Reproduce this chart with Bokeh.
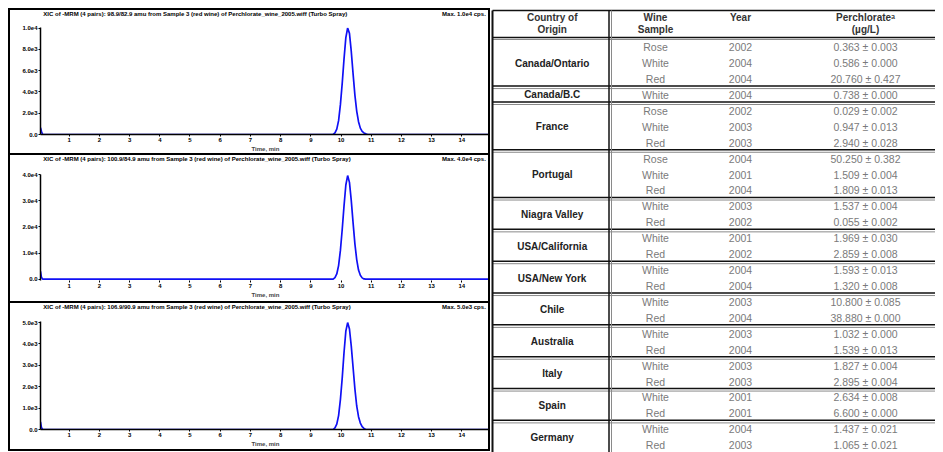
from bokeh.plotting import figure
from bokeh.layouts import row, column
from bokeh.models import Range1d, FixedTicker
from bokeh.embed import file_html
from bokeh.resources import INLINE
from bokeh.core.properties import value

# ---------------- chromatogram data ----------------
x_ticks = [1, 2, 3, 4, 5, 6, 7, 8, 9, 10, 11, 12, 13, 14]

top_time = [0.05, 0.08, 0.12, 9.74, 9.80, 9.86, 9.92, 9.98, 10.04, 10.10, 10.16, 10.22,
            10.28, 10.34, 10.40, 10.46, 10.52, 10.58, 10.64, 10.70, 10.76, 10.82, 10.88, 14.95]
top_int = [650, 300, 0, 0, 150, 500, 1300, 2800, 4800, 7100, 9100, 10000,
           9500, 7800, 5700, 3700, 2200, 1200, 600, 300, 150, 60, 0, 0]
top_ticks = [0, 2000, 4000, 6000, 8000, 10000]
top_labels = ["0.0", "2.0e3", "4.0e3", "6.0e3", "8.0e3", "1.0e4"]
top_title = "XIC of -MRM (4 pairs): 98.9/82.9 amu from Sample 3 (red wine) of Perchlorate_wine_2005.wiff (Turbo Spray)"
top_max = "Max. 1.0e4 cps."

mid_time = [0.05, 0.08, 0.12, 9.74, 9.80, 9.86, 9.92, 9.98, 10.04, 10.10, 10.16, 10.22,
            10.28, 10.34, 10.40, 10.46, 10.52, 10.58, 10.64, 10.70, 10.76, 10.82, 10.88, 14.95]
mid_int = [3000, 800, 0, 0, 600, 2000, 5200, 11000, 19000, 28000, 36000, 39600,
           37000, 30000, 21500, 13500, 7500, 3500, 1500, 500, 100, 0, 0, 0]
mid_ticks = [0, 10000, 20000, 30000, 40000]
mid_labels = ["0.0", "1.0e4", "2.0e4", "3.0e4", "4.0e4"]
mid_title = "XIC of -MRM (4 pairs): 100.9/84.9 amu from Sample 3 (red wine) of Perchlorate_wine_2005.wiff (Turbo Spray)"
mid_max = "Max. 4.0e4 cps."

bot_time = [0.05, 0.08, 0.12, 9.74, 9.80, 9.86, 9.92, 9.98, 10.04, 10.10, 10.16, 10.22,
            10.28, 10.34, 10.40, 10.46, 10.52, 10.58, 10.64, 10.70, 10.76, 10.82, 10.88, 14.95]
bot_int = [360, 100, 0, 0, 80, 250, 650, 1400, 2400, 3600, 4600, 5000,
           4700, 3900, 2900, 1900, 1100, 600, 300, 130, 50, 0, 0, 0]
bot_ticks = [0, 1000, 2000, 3000, 4000, 5000]
bot_labels = ["0.0", "1.0e3", "2.0e3", "3.0e3", "4.0e3", "5.0e3"]
bot_title = "XIC of -MRM (4 pairs): 106.9/90.9 amu from Sample 3 (red wine) of Perchlorate_wine_2005.wiff (Turbo Spray)"
bot_max = "Max. 5.0e3 cps."

# ---------------- table data ----------------
countries = ["Canada/Ontario", "Canada/B.C", "France", "Portugal", "Niagra Valley",
             "USA/California", "USA/New York", "Chile", "Australia", "Italy", "Spain", "Germany"]
group_sizes = [3, 1, 3, 3, 2, 2, 2, 2, 2, 2, 2, 2]
samples = ["Rose", "White", "Red", "White", "Rose", "White", "Red", "Rose", "White", "Red",
           "White", "Red", "White", "Red", "White", "Red", "White", "Red", "White", "Red",
           "White", "Red", "White", "Red", "White", "Red"]
years = [2002, 2004, 2004, 2004, 2002, 2003, 2003, 2004, 2001, 2004, 2003, 2002, 2001,
         2002, 2004, 2004, 2003, 2004, 2003, 2004, 2003, 2003, 2001, 2001, 2004, 2003]
perchlorate = [0.363, 0.586, 20.760, 0.738, 0.029, 0.947, 2.940, 50.250, 1.509, 1.809,
               1.537, 0.055, 1.969, 2.859, 1.593, 1.320, 10.800, 38.880, 1.032, 1.539,
               1.827, 2.895, 2.634, 6.600, 1.437, 1.065]
errors = [0.003, 0.000, 0.427, 0.000, 0.002, 0.013, 0.028, 0.382, 0.004, 0.013,
          0.004, 0.002, 0.030, 0.008, 0.013, 0.008, 0.085, 0.000, 0.000, 0.013,
          0.004, 0.004, 0.008, 0.000, 0.021, 0.021]
header_line1 = ["Country of", "Wine", "Year", "Perchlorate\u1d43"]
header_line2 = ["Origin", "Sample", "", "(\u00b5g/L)"]

FONT_NAME = "Liberation Sans"
FONT = value(FONT_NAME)
BLUE = "#1010f5"
B = "2px solid black"
W_OUT = 482          # outer width of the left panels (border-box)
W_IN = W_OUT - 4
HDR = 12             # inner height of the title strip


def header(title, maxtxt, top_border):
    h = HDR + (2 if top_border else 0)
    p = figure(width=W_OUT, height=h, x_range=Range1d(0, W_IN), y_range=Range1d(0, HDR),
               output_backend="svg", toolbar_location=None, x_axis_location=None,
               y_axis_location=None, min_border=0, outline_line_color=None)
    p.grid.visible = False
    p.text(x=[3], y=[HDR - 0.5], text=[title], text_align="left", text_baseline="top",
           text_font=FONT, text_font_size="6px", text_font_style="bold", text_color="black")
    p.text(x=[W_IN - 5], y=[HDR - 0.5], text=[maxtxt], text_align="right",
           text_baseline="top", text_font=FONT, text_font_size="6px",
           text_font_style="bold", text_color="black")
    st = {"border-left": B, "border-right": B}
    if top_border:
        st["border-top"] = B
    p.styles = st
    return p


def chrom(t, y, ticks, labels, ymin, ymax, h, mb_top, mb_bottom, hide_xline=False):
    p = figure(width=W_OUT, height=h, x_range=Range1d(0.05, 14.95),
               y_range=Range1d(ymin, ymax), output_backend="svg", toolbar_location=None,
               min_border_left=30, min_border_right=2, min_border_top=mb_top,
               min_border_bottom=mb_bottom, outline_line_color=None)
    p.grid.visible = False
    p.line(t, y, line_color=BLUE, line_width=1.7)
    xa = p.xaxis[0]
    xa.ticker = FixedTicker(ticks=x_ticks)
    xa.axis_label = "Time, min"
    ya = p.yaxis[0]
    ya.ticker = FixedTicker(ticks=ticks)
    ya.major_label_overrides = {tk: lb for tk, lb in zip(ticks, labels)}
    for ax in (xa, ya):
        ax.axis_line_color = "black"
        ax.axis_line_width = 1.5
        ax.major_tick_line_color = "black"
        ax.major_tick_in = 0
        ax.major_tick_out = 2
        ax.minor_tick_line_color = None
        ax.major_label_standoff = 1
        ax.major_label_text_font = FONT_NAME
        ax.major_label_text_font_size = "6px"
        ax.major_label_text_font_style = "bold"
        ax.major_label_text_color = "black"
        ax.axis_label_text_font = FONT_NAME
        ax.axis_label_text_font_size = "6px"
        ax.axis_label_text_font_style = "bold"
        ax.axis_label_standoff = 1
    if hide_xline:
        xa.axis_line_color = None
    p.styles = {"border-left": B, "border-right": B, "border-bottom": B}
    return p


h1 = header(top_title, top_max, True)
p1 = chrom(top_time, top_int, top_ticks, top_labels, 0, 10050, 133, 5, 21)
h2 = header(mid_title, mid_max, False)
p2 = chrom(mid_time, mid_int, mid_ticks, mid_labels, -500, 40000, 136, 7, 23,
           hide_xline=True)
h3 = header(bot_title, bot_max, False)
p3 = chrom(bot_time, bot_int, bot_ticks, bot_labels, 0, 5050, 136, 6, 22)

# ---------------- table ----------------
TW, TH = 445, 444
row_top, row_bottom = -2.431, 25.459
t = figure(width=TW, height=TH, x_range=Range1d(0, TW), y_range=Range1d(row_bottom, row_top),
           output_backend="svg", toolbar_location=None, x_axis_location=None,
           y_axis_location=None, min_border=0, outline_line_color=None)
t.grid.visible = False

col_country, col_sample, col_year, col_value = 61.7, 165, 250, 375
header_x = [col_country, col_sample, col_year, col_value]

t.text(x=header_x, y=[-1.884] * 4, text=header_line1, text_align="center",
       text_baseline="middle", text_font=FONT, text_font_size="10px",
       text_font_style="bold", text_color="#333333")
t.text(x=header_x, y=[-1.112] * 4, text=header_line2, text_align="center",
       text_baseline="middle", text_font=FONT, text_font_size="10px",
       text_font_style="bold", text_color="#333333")

rows = list(range(len(samples)))
t.text(x=[col_sample] * len(rows), y=rows, text=samples, text_align="center",
       text_baseline="middle", text_font=FONT, text_font_size="10.5px", text_color="#7a7a7a")
t.text(x=[col_year] * len(rows), y=rows, text=[str(v) for v in years], text_align="center",
       text_baseline="middle", text_font=FONT, text_font_size="10.5px", text_color="#7a7a7a")
t.text(x=[col_value] * len(rows), y=rows,
       text=[f"{v:.3f} \u00b1 {e:.3f}" for v, e in zip(perchlorate, errors)],
       text_align="center", text_baseline="middle", text_font=FONT,
       text_font_size="10.5px", text_color="#7a7a7a")

# group positions
centers, bounds = [], []
start = 0
for n in group_sizes:
    centers.append(start + (n - 1) / 2)
    start += n
    bounds.append(start - 0.5)
bounds = bounds[:-1]
t.text(x=[col_country] * len(countries), y=centers, text=countries, text_align="center",
       text_baseline="middle", text_font=FONT, text_font_size="10px",
       text_font_style="bold", text_color="#222222")

# rules
rule_black = [-0.609] + [b - 0.06 for b in bounds]
rule_gray = [-0.484] + [b + 0.10 for b in bounds]
t.segment(x0=[2] * len(rule_black), x1=[TW] * len(rule_black), y0=rule_black, y1=rule_black,
          line_color="#111111", line_width=1.5)
t.segment(x0=[2] * len(rule_gray), x1=[TW] * len(rule_gray), y0=rule_gray, y1=rule_gray,
          line_color="#8a8a8a", line_width=1)
# borders
t.segment(x0=[2], x1=[TW], y0=[-2.305], y1=[-2.305], line_color="#111111", line_width=1.5)
t.segment(x0=[2], x1=[2], y0=[-2.305], y1=[row_bottom], line_color="#111111", line_width=2)
t.segment(x0=[118.5], x1=[118.5], y0=[-2.305], y1=[row_bottom], line_color="#111111",
          line_width=1.5)
t.segment(x0=[121], x1=[121], y0=[-2.305], y1=[row_bottom], line_color="#8a8a8a",
          line_width=1)

layout = row(column(h1, p1, h2, p2, h3, p3), t,
             styles={"margin-left": "8px", "margin-top": "8px"})
open("out.html", "w").write(file_html(layout, INLINE))
